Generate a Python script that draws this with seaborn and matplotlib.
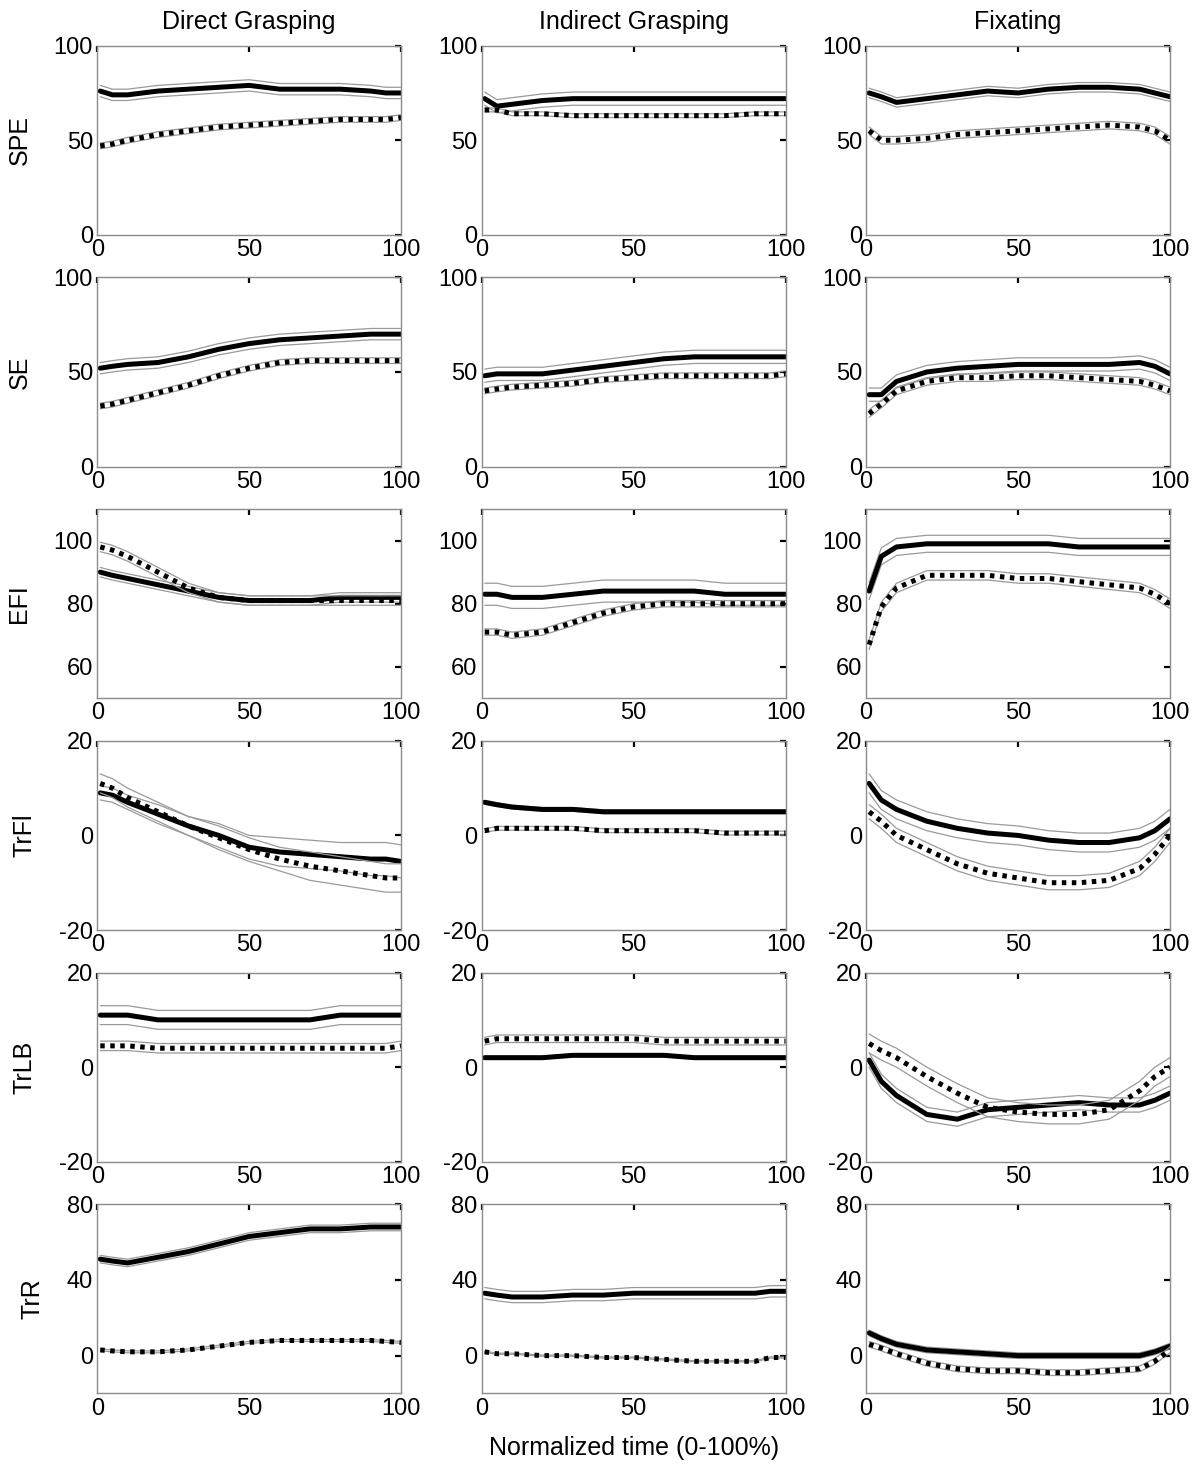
import matplotlib
matplotlib.use("Agg")
import matplotlib.pyplot as plt
import seaborn as sns
import numpy as np

# time points (% of movement)
time_pts = [1, 5, 10, 20, 30, 40, 50, 60, 70, 80, 90, 95, 100]

col_titles = ["Direct Grasping", "Indirect Grasping", "Fixating"]
row_labels = ["SPE", "SE", "EFI", "TrFl", "TrLB", "TrR"]
y_limits = [(0, 100), (0, 100), (50, 110), (-20, 20), (-20, 20), (-20, 80)]
y_ticks = [[0, 50, 100], [0, 50, 100], [60, 80, 100], [-20, 0, 20], [-20, 0, 20], [0, 40, 80]]

# SPE
spe_direct_solid = [76, 74, 74, 76, 77, 78, 79, 77, 77, 77, 76, 75, 75]
spe_direct_dot = [47, 48, 50, 53, 55, 57, 58, 59, 60, 61, 61, 61, 62]
spe_indirect_solid = [72, 68, 69, 71, 72, 72, 72, 72, 72, 72, 72, 72, 72]
spe_indirect_dot = [66, 66, 64, 64, 63, 63, 63, 63, 63, 63, 64, 64, 64]
spe_fix_solid = [75, 73, 70, 72, 74, 76, 75, 77, 78, 78, 77, 75, 73]
spe_fix_dot = [55, 50, 50, 51, 53, 54, 55, 56, 57, 58, 57, 55, 50]

# SE
se_direct_solid = [52, 53, 54, 55, 58, 62, 65, 67, 68, 69, 70, 70, 70]
se_direct_dot = [32, 33, 35, 39, 43, 48, 52, 55, 56, 56, 56, 56, 56]
se_indirect_solid = [48, 49, 49, 49, 51, 53, 55, 57, 58, 58, 58, 58, 58]
se_indirect_dot = [40, 41, 42, 43, 44, 46, 47, 48, 48, 48, 48, 48, 49]
se_fix_solid = [38, 38, 45, 50, 52, 53, 54, 54, 54, 54, 55, 53, 49]
se_fix_dot = [28, 33, 40, 45, 47, 47, 48, 48, 47, 46, 45, 43, 40]

# EFI
efi_direct_solid = [90, 89, 88, 86, 84, 82, 81, 81, 81, 82, 82, 82, 82]
efi_direct_dot = [98, 97, 95, 90, 85, 82, 81, 81, 81, 81, 81, 81, 81]
efi_indirect_solid = [83, 83, 82, 82, 83, 84, 84, 84, 84, 83, 83, 83, 83]
efi_indirect_dot = [71, 71, 70, 71, 74, 77, 79, 80, 80, 80, 80, 80, 80]
efi_fix_solid = [84, 95, 98, 99, 99, 99, 99, 99, 98, 98, 98, 98, 98]
efi_fix_dot = [67, 79, 85, 89, 89, 89, 88, 88, 87, 86, 85, 83, 80]

# TrFl
trfl_direct_solid = [9, 8.5, 7, 4.5, 2, 0, -2.5, -3.5, -4, -4.5, -5, -5, -5.5]
trfl_direct_dot = [11, 10, 8, 5, 2, -0.5, -3, -5, -6.5, -7.5, -8.5, -9, -9]
trfl_indirect_solid = [7, 6.5, 6, 5.5, 5.5, 5, 5, 5, 5, 5, 5, 5, 5]
trfl_indirect_dot = [1, 1.5, 1.5, 1.5, 1.5, 1, 1, 1, 1, 0.5, 0.5, 0.5, 0.5]
trfl_fix_solid = [11, 7.5, 5.5, 3, 1.5, 0.5, 0, -1, -1.5, -1.5, -0.5, 1, 3.5]
trfl_fix_dot = [5, 3, 0, -3, -6, -8, -9, -10, -10, -9.5, -7, -4, 0]

# TrLB
trlb_direct_solid = [11, 11, 11, 10, 10, 10, 10, 10, 10, 11, 11, 11, 11]
trlb_direct_dot = [4.5, 4.5, 4.5, 4, 4, 4, 4, 4, 4, 4, 4, 4, 4.5]
trlb_indirect_solid = [2, 2, 2, 2, 2.5, 2.5, 2.5, 2.5, 2, 2, 2, 2, 2]
trlb_indirect_dot = [5.5, 6, 6, 6, 6, 6, 6, 5.5, 5.5, 5.5, 5.5, 5.5, 5.5]
trlb_fix_solid = [1.5, -3, -6, -10, -11, -9, -8.5, -8, -7.5, -8, -8, -7, -5.5]
trlb_fix_dot = [5, 3.5, 2, -2, -5.5, -8.5, -9.5, -10, -10, -9, -5, -2, 0]

# TrR
trr_direct_solid = [51, 50, 49, 52, 55, 59, 63, 65, 67, 67, 68, 68, 68]
trr_direct_dot = [3, 2.5, 2, 2, 3, 5, 7, 8, 8, 8, 8, 7.5, 7]
trr_indirect_solid = [33, 32, 31, 31, 32, 32, 33, 33, 33, 33, 33, 34, 34]
trr_indirect_dot = [2, 1, 1, 0, 0, -1, -1, -2, -3, -3, -3, -1, -1]
trr_fix_solid = [12, 9, 6, 3, 2, 1, 0, 0, 0, 0, 0, 2, 5]
trr_fix_dot = [6, 4, 1, -4, -7, -8, -8, -9, -9, -8, -7, -3, 3]

# half-width of the grey bands (solid, dotted) per panel
bands = [
    [(3, 1.5), (3.5, 1), (2.5, 2)],
    [(3, 1.5), (3.5, 1.5), (3.5, 2)],
    [(1.5, 1.5), (3.5, 1), (2.7, 1.5)],
    [([1.5, 1.5, 1.5, 2, 2, 2.5, 2.5, 3, 3, 3, 3.5, 3.5, 3.5], [2, 2, 2, 2, 2, 2.5, 2.5, 2.5, 3, 3, 3, 3, 3]), (0.4, 0.4), (2, 1.5)],
    [(2, 1), (0.3, 0.8), (1.5, 2)],
    [(2, 0.5), (3, 0.3), (1.5, 1.5)],
]

solid = [
    [spe_direct_solid, spe_indirect_solid, spe_fix_solid],
    [se_direct_solid, se_indirect_solid, se_fix_solid],
    [efi_direct_solid, efi_indirect_solid, efi_fix_solid],
    [trfl_direct_solid, trfl_indirect_solid, trfl_fix_solid],
    [trlb_direct_solid, trlb_indirect_solid, trlb_fix_solid],
    [trr_direct_solid, trr_indirect_solid, trr_fix_solid],
]
dotted = [
    [spe_direct_dot, spe_indirect_dot, spe_fix_dot],
    [se_direct_dot, se_indirect_dot, se_fix_dot],
    [efi_direct_dot, efi_indirect_dot, efi_fix_dot],
    [trfl_direct_dot, trfl_indirect_dot, trfl_fix_dot],
    [trlb_direct_dot, trlb_indirect_dot, trlb_fix_dot],
    [trr_direct_dot, trr_indirect_dot, trr_fix_dot],
]

sns.set_style("white")
plt.rcParams["font.family"] = ["Liberation Sans", "DejaVu Sans"]
plt.rcParams["axes.unicode_minus"] = False
plt.rcParams["text.color"] = "black"
plt.rcParams["axes.labelcolor"] = "black"
plt.rcParams["xtick.color"] = "black"
plt.rcParams["ytick.color"] = "black"

fig, axes = plt.subplots(6, 3, figsize=(12, 14.73), dpi=100)
fig.subplots_adjust(left=0.081, right=0.975, top=0.969, bottom=0.054,
                    wspace=0.265, hspace=0.225)

x = np.array(time_pts)
for r in range(6):
    for c in range(3):
        ax = axes[r, c]
        for vals, bw, ls in [(solid[r][c], bands[r][c][0], "-"),
                             (dotted[r][c], bands[r][c][1], (0, (0.9, 1.1)))]:
            vals = np.array(vals, dtype=float)
            bw = np.broadcast_to(np.array(bw, dtype=float), vals.shape)
            sns.lineplot(x=x, y=vals + bw, ax=ax, color="#9a9a9a", lw=0.9)
            sns.lineplot(x=x, y=vals - bw, ax=ax, color="#9a9a9a", lw=0.9)
            sns.lineplot(x=x, y=vals, ax=ax, color="black", lw=3.6, linestyle=ls)
        ax.set_xlim(0, 100)
        ax.set_ylim(*y_limits[r])
        ax.set_xticks([0, 50, 100])
        ax.set_yticks(y_ticks[r])
        ax.tick_params(direction="in", top=True, right=True, length=4, width=1.6,
                       color="black", labelcolor="black", labelsize=17, pad=3)
        for s in ax.spines.values():
            s.set_color("#8c8c8c")
            s.set_linewidth(1.0)
        ax.set_xlabel("")
        ax.set_ylabel("")
        if r == 0:
            ax.set_title(col_titles[c], fontsize=18, pad=12)
        if c == 0:
            ax.set_ylabel(row_labels[r], fontsize=18, labelpad=16)

axes[5, 1].set_xlabel("Normalized time (0-100%)", fontsize=18, labelpad=12)

fig.savefig("out.png", dpi=100)
